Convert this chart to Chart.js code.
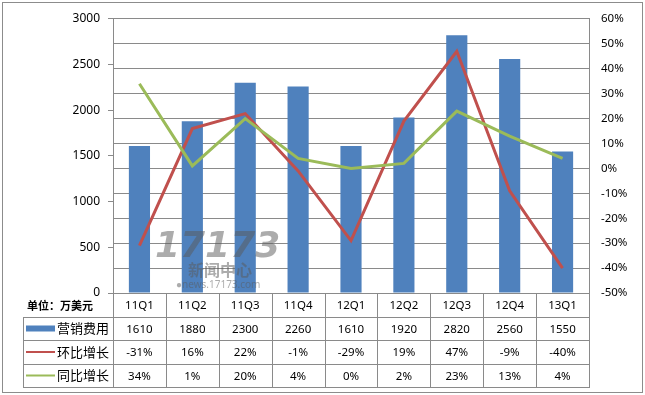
<!DOCTYPE html>
<html>
<head>
<meta charset="utf-8">
<script src="https://cdn.jsdelivr.net/npm/chart.js@4"></script>
<style>
  html, body { margin: 0; padding: 0; background: #fff; }
  #wrap { width: 645px; height: 395px; position: relative; }
</style>
</head>
<body>
<div id="wrap"><canvas id="chart_plot" width="645" height="395"></canvas></div>
<script>
// quarters
var categories = ['11Q1', '11Q2', '11Q3', '11Q4', '12Q1', '12Q2', '12Q3', '12Q4', '13Q1'];
// marketing spend, 10k USD
var spend = [1610, 1880, 2300, 2260, 1610, 1920, 2820, 2560, 1550];
// quarter on quarter growth, %
var qoq = [-31, 16, 22, -1, -29, 19, 47, -9, -40];
// year on year growth, %
var yoy = [34, 1, 20, 4, 0, 2, 23, 13, 4];

var seriesNames = ['营销费用', '环比增长', '同比增长'];
var unitLabel = '单位：万美元';

var BLUE = '#4F81BD', RED = '#C0504D', GREEN = '#9BBB59', GRID = '#8a8a8a';
var NUM_FONT = '"Noto Sans", sans-serif';
var CJK_FONT = '"Noto Sans CJK SC", sans-serif';

// draws the data table under the plot + the frame and watermark
var tablePlugin = {
    id: 'dataTable',
    afterDatasetsDraw: function(chart) {
        var ctx = chart.ctx;
        var x = chart.scales.x;
        var area = chart.chartArea;
        var colW = x.width / categories.length;
        var rows = [area.bottom, area.bottom + 24, area.bottom + 47, area.bottom + 71, area.bottom + 94];
        var tableLeft = 23;

        // watermark
        ctx.save();
        ctx.fillStyle = 'rgba(90,90,90,0.5)';
        ctx.font = 'italic bold 36px "DejaVu Sans", sans-serif';
        ctx.textBaseline = 'alphabetic';
        ctx.fillText('17173', 155, 257);
        ctx.font = 'bold 16px ' + CJK_FONT;
        ctx.fillText('新闻中心', 188, 276);
        ctx.font = '10px ' + NUM_FONT;
        ctx.fillText('●news.17173.com', 176, 288);
        ctx.restore();

        ctx.save();
        ctx.strokeStyle = GRID;
        ctx.lineWidth = 1;
        ctx.beginPath();
        for (var r = 1; r < rows.length; r++) {
            ctx.moveTo(tableLeft, Math.round(rows[r]) + 0.5);
            ctx.lineTo(area.right, Math.round(rows[r]) + 0.5);
        }
        ctx.moveTo(tableLeft + 0.5, rows[1]);
        ctx.lineTo(tableLeft + 0.5, rows[4] + 1);
        for (var i = 0; i <= categories.length; i++) {
            var bx = Math.round(x.left + i * colW) + 0.5;
            ctx.moveTo(bx, rows[0]);
            ctx.lineTo(bx, rows[4] + 1);
        }
        ctx.stroke();

        // cell text
        ctx.fillStyle = '#000';
        ctx.textAlign = 'center';
        ctx.textBaseline = 'middle';
        ctx.font = '11.5px ' + NUM_FONT;
        var rowData = [categories, spend, qoq.map(function(v) { return v + '%'; }), yoy.map(function(v) { return v + '%'; })];
        rowData.forEach(function(vals, r) {
            var cy = (rows[r] + rows[r + 1]) / 2 + 1;
            vals.forEach(function(v, i) {
                ctx.fillText(String(v), x.getPixelForValue(i), cy);
            });
        });

        // label column
        ctx.textAlign = 'left';
        ctx.font = 'bold 11px ' + CJK_FONT;
        ctx.fillText(unitLabel, 27, (rows[0] + rows[1]) / 2 + 1);
        ctx.font = '13px ' + CJK_FONT;
        var colors = [BLUE, RED, GREEN];
        for (var s = 0; s < 3; s++) {
            var cy2 = (rows[s + 1] + rows[s + 2]) / 2;
            if (s == 0) {
                ctx.fillStyle = colors[s];
                ctx.fillRect(26, cy2 - 3, 29, 6);
            } else {
                ctx.strokeStyle = colors[s];
                ctx.lineWidth = 2;
                ctx.beginPath();
                ctx.moveTo(26, cy2);
                ctx.lineTo(55, cy2);
                ctx.stroke();
            }
            ctx.fillStyle = '#000';
            ctx.fillText(seriesNames[s], 57, cy2);
        }

        // outer frame
        ctx.strokeStyle = '#8c8c8c';
        ctx.lineWidth = 1;
        ctx.strokeRect(2.5, 2.5, 640, 390);
        ctx.restore();
    }
};

var myChart = new Chart(document.getElementById('chart_plot'), {
    type: 'bar',
    data: {
        labels: categories,
        datasets: [{
            type: 'line',
            label: seriesNames[1],
            data: qoq,
            yAxisID: 'y1',
            borderColor: RED,
            borderWidth: 3,
            pointRadius: 0,
            tension: 0,
            order: 1
        }, {
            type: 'line',
            label: seriesNames[2],
            data: yoy,
            yAxisID: 'y1',
            borderColor: GREEN,
            borderWidth: 3,
            pointRadius: 0,
            tension: 0,
            order: 0
        }, {
            label: seriesNames[0],
            data: spend,
            yAxisID: 'y',
            backgroundColor: BLUE,
            barPercentage: 0.4,
            categoryPercentage: 1,
            order: 2
        }]
    },
    options: {
        responsive: false,
        animation: false,
        layout: { padding: { left: 0, right: 0, top: 16, bottom: 102 } },
        plugins: { legend: { display: false }, tooltip: { enabled: false } },
        scales: {
            x: { display: false, offset: true },
            y: {
                position: 'left',
                min: 0,
                max: 3000,
                afterFit: function(scale) { scale.width = 113; },
                ticks: {
                    stepSize: 500, padding: 8, color: '#000', font: { family: NUM_FONT, size: 12 },
                    callback: function(v) { return String(v); }
                },
                grid: { drawOnChartArea: false, drawTicks: true, tickLength: 5, tickColor: GRID, color: GRID },
                border: { display: true, color: GRID }
            },
            y1: {
                position: 'right',
                min: -50,
                max: 60,
                afterFit: function(scale) { scale.width = 56; },
                ticks: {
                    stepSize: 10, padding: 12, color: '#000', font: { family: NUM_FONT, size: 11.5 },
                    callback: function(v) { return v + '%'; }
                },
                grid: { drawTicks: false, color: GRID },
                border: { display: true, color: GRID }
            }
        }
    },
    plugins: [tablePlugin]
});
</script>
</body>
</html>
